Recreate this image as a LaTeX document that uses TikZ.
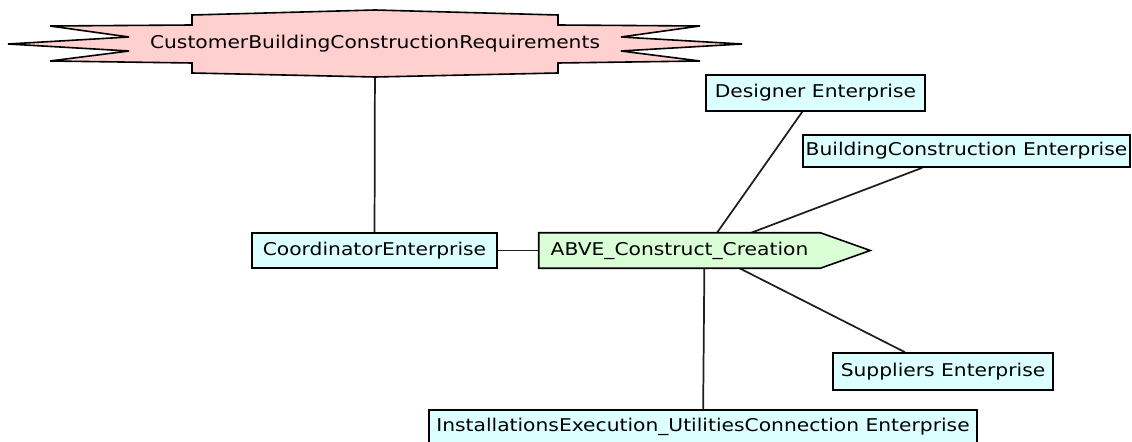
\documentclass[tikz,border=0pt]{standalone}
\usepackage{fontspec}
\newfontfamily\diagfont[FakeStretch=1.15]{DejaVu Sans}
\usepackage{tikz}
\usetikzlibrary{backgrounds, calc}
\definecolor{reqpink}{RGB}{255,208,208}
\definecolor{entcyan}{RGB}{220,255,255}
\definecolor{actgreen}{RGB}{218,255,214}
\definecolor{linkgray}{RGB}{30,30,30}

\begin{document}
\begin{tikzpicture}[x=0.75pt, y=-0.75pt, font=\fontsize{13.2}{15}\diagfont]
\useasboundingbox (0,0) rectangle (1132,442);
\clip (0,0) rectangle (1132,442);
% Define styles
\tikzstyle{enterprise} = [rectangle, draw=black, line width=1.2pt, fill=entcyan, text centered, inner sep=0pt]
\tikzstyle{activity} = [rectangle, text centered, inner sep=0pt, minimum width=210.75pt, minimum height=26.25pt]
\tikzstyle{activityshape} = [draw=black, line width=1.2pt, fill=actgreen, line join=miter]
\tikzstyle{requirement} = [draw=black, line width=1.2pt, fill=reqpink, line join=miter]
\tikzstyle{link} = [draw=linkgray, line width=1.3pt]
% Define nodes
\node (CustomerReq) at (375,44) {CustomerBuildingConstructionRequirements};
\node[enterprise, minimum width=183.75pt, minimum height=26.25pt] (CoordinatorEnterprise) at (374.5,250.5) {CoordinatorEnterprise};
\node[activity] (ABVE) at (679.5,250.5) {ABVE\_Construct\_Creation};
\coordinate (ActivityHub) at ($(ABVE.center)+(25,0)$);
\node[enterprise, minimum width=164.25pt, minimum height=27pt] (DesignerEnterprise) at (815.5,93) {Designer Enterprise};
\node[enterprise, minimum width=245.25pt, minimum height=24pt] (BuildingConstructionEnterprise) at (966.5,151) {BuildingConstruction Enterprise};
\node[enterprise, minimum width=165pt, minimum height=27.75pt] (SuppliersEnterprise) at (943,371.5) {Suppliers Enterprise};
\node[enterprise, minimum width=411pt, minimum height=25.5pt] (InstallationsEnterprise) at (703,427) {InstallationsExecution\_UtilitiesConnection Enterprise};
% Relationships (lines)
\begin{scope}[on background layer]
\draw[link] (CustomerReq.center) -- (CoordinatorEnterprise);
\draw[link] (CoordinatorEnterprise) -- (ABVE);
\draw[link] (ActivityHub) -- (DesignerEnterprise);
\draw[link] (ActivityHub) -- (BuildingConstructionEnterprise);
\draw[link] (ActivityHub) -- (SuppliersEnterprise);
\draw[link] (ActivityHub) -- (InstallationsEnterprise);
% Activity arrow outline
\draw[activityshape] (ABVE.north west) -- (ABVE.north east) -- ($(ABVE.east)+(50,0)$) -- (ABVE.south east) -- (ABVE.south west) -- cycle;
% Requirement star outline
\begin{scope}[shift={(CustomerReq.center)}]
\draw[requirement] (0,-34) -- (183,-29) -- (183,-19) -- (325,-18) -- (246,-7) -- (367,0) -- (246,7) -- (325,17) -- (183,19) -- (183,29) -- (0,33) -- (-183,29) -- (-183,19) -- (-325,17) -- (-246,7) -- (-367,0) -- (-246,-7) -- (-325,-18) -- (-183,-19) -- (-183,-29) -- cycle;
\end{scope}
\end{scope}
\end{tikzpicture}
\end{document}
